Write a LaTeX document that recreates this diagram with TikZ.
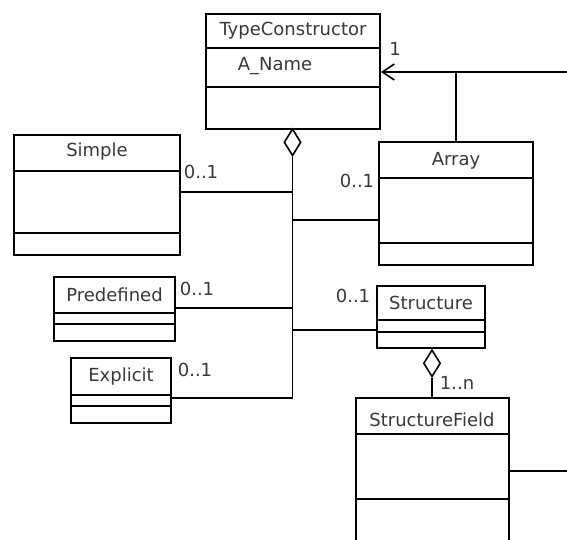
\documentclass[tikz,border=0pt]{standalone}
\usepackage{fontspec}
\setmainfont{DejaVu Sans}
\usetikzlibrary{shapes.geometric,arrows.meta}
\definecolor{txt}{HTML}{383838}
\begin{document}
\begin{tikzpicture}[x=1pt,y=-1pt,
  line width=1.8pt,
  classbox/.style={draw,rectangle,inner sep=0pt,line width=1.8pt},
  lbl/.style={inner sep=0pt,text=txt,font=\fontsize{18}{20}\selectfont},
  agg/.style={draw,diamond,fill=white,inner sep=0pt,aspect=0.66,minimum width=17pt,minimum height=27pt,line width=1.6pt}]
\useasboundingbox (0,0) rectangle (567,540);
\clip (0,0) rectangle (567,540);
% class boxes
\node[classbox,minimum width=174pt,minimum height=115pt] (tc) at (293,71.5) {};
\node[classbox,minimum width=166pt,minimum height=120pt] (simple) at (97,195) {};
\node[classbox,minimum width=154pt,minimum height=123pt] (array) at (456,203.5) {};
\node[classbox,minimum width=121pt,minimum height=64pt] (predef) at (114.5,309) {};
\node[classbox,minimum width=100pt,minimum height=65pt] (explicit) at (121,390.5) {};
\node[classbox,minimum width=108pt,minimum height=62pt] (structure) at (431,317) {};
\node[classbox,minimum width=153pt,minimum height=170pt] (sfield) at (432.5,483) {};
% compartments
\draw (tc.west |- 0,48) -- (tc.east |- 0,48);
\draw (tc.west |- 0,87) -- (tc.east |- 0,87);
\draw (simple.west |- 0,171) -- (simple.east |- 0,171);
\draw (simple.west |- 0,233) -- (simple.east |- 0,233);
\draw (array.west |- 0,178) -- (array.east |- 0,178);
\draw (array.west |- 0,243) -- (array.east |- 0,243);
\draw (predef.west |- 0,313) -- (predef.east |- 0,313);
\draw (predef.west |- 0,324) -- (predef.east |- 0,324);
\draw (explicit.west |- 0,395) -- (explicit.east |- 0,395);
\draw (explicit.west |- 0,406) -- (explicit.east |- 0,406);
\draw (structure.west |- 0,320) -- (structure.east |- 0,320);
\draw (structure.west |- 0,332) -- (structure.east |- 0,332);
\draw (sfield.west |- 0,434) -- (sfield.east |- 0,434);
\draw (sfield.west |- 0,499) -- (sfield.east |- 0,499);
% titles
\node[lbl] (tct) at (293,31) {TypeConstructor};
\node[lbl,anchor=west] (tca) at (237,66) {A\_Name};
\node[lbl] (simplet) at (97,152) {Simple};
\node[lbl] (arrayt) at (456,161) {Array};
\node[lbl] (predeft) at (114.5,295) {Predefined};
\node[lbl] (explicitt) at (121,377) {Explicit};
\node[lbl] (structuret) at (431,303) {Structure};
\node[lbl] (sfieldt) at (432,420) {StructureField};
% aggregation diamonds
\node[agg,anchor=north] (d1) at (292.5,128) {};
\node[agg,anchor=north] (d2) at (432,349) {};
% trunk coordinates
\coordinate (jsimple) at (292.5,192);
\coordinate (jarray) at (292.5,220);
\coordinate (jpre) at (292.5,308);
\coordinate (jstruct) at (292.5,330);
\coordinate (jex) at (292.5,398);
\draw (d1.south) -- (jex) -- (explicit.east |- jex);
\draw (jsimple) -- (simple.east |- jsimple);
\draw (jarray) -- (array.west |- jarray);
\draw (jpre) -- (predef.east |- jpre);
\draw (jstruct) -- (structure.west |- jstruct);
\draw (d2.south) -- (sfield.north -| d2.south);
% navigable association to TypeConstructor
\coordinate (rend) at (567,72);
\coordinate (jarr) at (456,72);
\draw[-{Straight Barb[length=12pt,width=16pt,line width=1.6pt]}] (rend) -- (tc.east |- rend);
\draw (jarr) -- (array.north -| jarr);
\coordinate (sfend) at (567,471);
\draw (sfield.east |- sfend) -- (sfend);
% multiplicities
\node[lbl] (m1) at (395,49) {1};
\node[lbl] (msimple) at (201,172) {0..1};
\node[lbl] (marray) at (357,181) {0..1};
\node[lbl] (mpre) at (197,289) {0..1};
\node[lbl] (mex) at (195,370) {0..1};
\node[lbl] (mstruct) at (353,296) {0..1};
\node[lbl] (mfield) at (457,383) {1..n};
\end{tikzpicture}
\end{document}
